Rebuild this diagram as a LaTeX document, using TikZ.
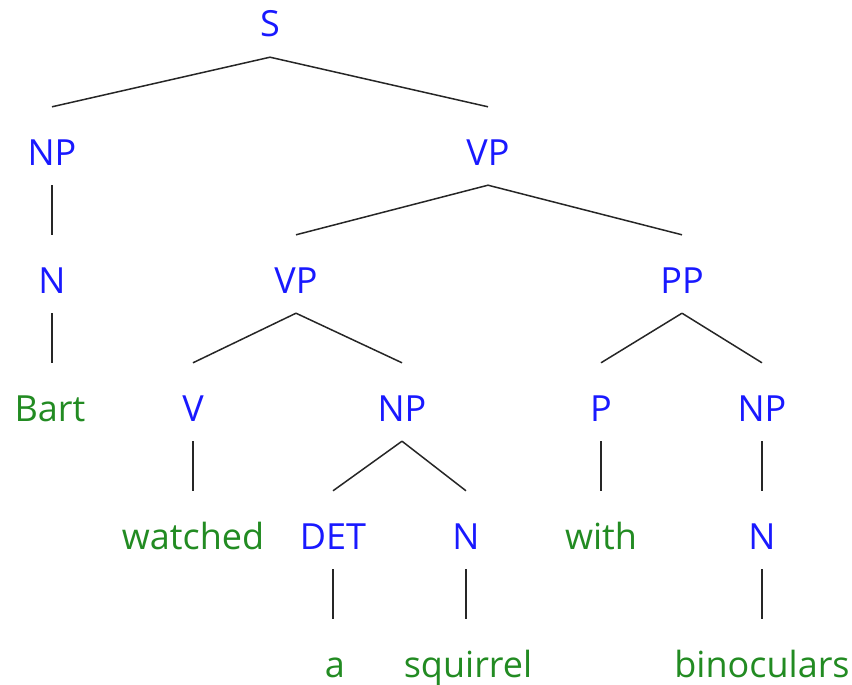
\documentclass[tikz,border=0pt]{standalone}
\usepackage{fontspec}
\setmainfont{Open Sans}
\usepackage{xcolor}
\usepackage{tikz}
\usetikzlibrary{positioning}

\definecolor{catblue}{RGB}{25,25,255}
\definecolor{wordgreen}{RGB}{34,139,34}

\begin{document}
\begin{tikzpicture}[
    x=1pt, y=-1pt,
    cat/.style={anchor=base, inner sep=0pt, text height=58pt, text depth=20pt, font=\fontsize{36}{40}\selectfont, text=catblue},
    word/.style={cat, text=wordgreen},
    branch/.style={draw=black!85, line width=1.5pt}
]
    \useasboundingbox (0,0) rectangle (852,685);

    % Root
    \node[cat] (s) at (270,37) {S};

    % Level 1
    \node[cat] (np1) at (52,165) {NP};
    \node[cat] (vp1) at (488,165) {VP};

    % Level 2
    \node[cat] (n1) at (52,293) {N};
    \node[cat] (vp2) at (296,293) {VP};
    \node[cat] (pp) at (682,293) {PP};

    % Level 3
    \node[word] (bart) at (50,421) {Bart};
    \node[cat] (v) at (193,421) {V};
    \node[cat] (np2) at (402,421) {NP};
    \node[cat] (p) at (601,421) {P};
    \node[cat] (np3) at (762,421) {NP};

    % Level 4
    \node[word] (watched) at (193,549) {watched};
    \node[cat] (det) at (333,549) {DET};
    \node[cat] (n2) at (466,549) {N};
    \node[word] (with) at (601,549) {with};
    \node[cat] (n3) at (762,549) {N};

    % Level 5
    \node[word] (a) at (335,677) {a};
    \node[word] (squirrel) at (468,677) {squirrel};
    \node[word] (binoculars) at (762,677) {binoculars};

    % Branches
    \draw[branch] (s.south) -- (np1.north);
    \draw[branch] (s.south) -- (vp1.north);
    \draw[branch] (np1.south) -- (n1.north);
    \draw[branch] (n1.south) -- (n1.south |- bart.north);
    \draw[branch] (vp1.south) -- (vp2.north);
    \draw[branch] (vp1.south) -- (pp.north);
    \draw[branch] (vp2.south) -- (v.north);
    \draw[branch] (vp2.south) -- (np2.north);
    \draw[branch] (v.south) -- (watched.north);
    \draw[branch] (np2.south) -- (det.north);
    \draw[branch] (np2.south) -- (n2.north);
    \draw[branch] (det.south) -- (det.south |- a.north);
    \draw[branch] (n2.south) -- (n2.south |- squirrel.north);
    \draw[branch] (pp.south) -- (p.north);
    \draw[branch] (pp.south) -- (np3.north);
    \draw[branch] (p.south) -- (with.north);
    \draw[branch] (np3.south) -- (n3.north);
    \draw[branch] (n3.south) -- (binoculars.north);
\end{tikzpicture}
\end{document}
